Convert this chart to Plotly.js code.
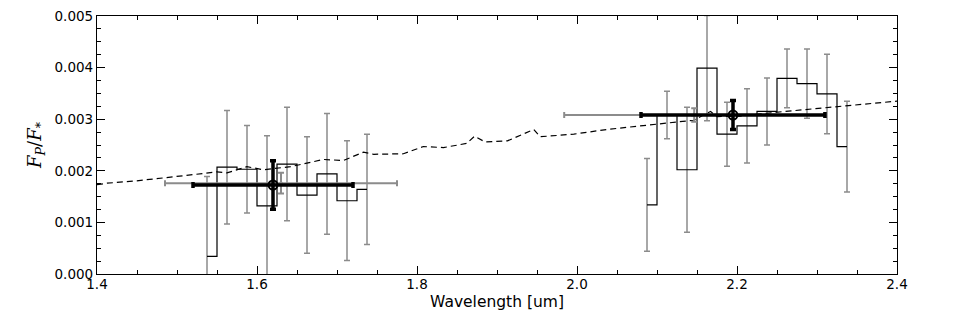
<!DOCTYPE html>
<html>
<head>
<meta charset="utf-8">
<script src="https://cdn.plot.ly/plotly-3.0.1.min.js"></script>
<style>
  html, body { margin: 0; padding: 0; background: #fff; }
  #plot { width: 969px; height: 323px; }
</style>
</head>
<body>
<div id="plot"></div>
<script>
// binned spectrum, blue band (left) and red band (right)
const binWaveH = [1.5375, 1.5625, 1.5875, 1.6125, 1.6375, 1.6625, 1.6875, 1.7125, 1.7375]
const binDepthH = [0.00034, 0.00207, 0.00203, 0.00132, 0.00213, 0.00153, 0.00194, 0.00142, 0.00164]
const binErrH = [0.00155, 0.00110, 0.00085, 0.00136, 0.00110, 0.00113, 0.00117, 0.00116, 0.00107]

const binWaveK = [2.0875, 2.1125, 2.1375, 2.1625, 2.1875, 2.2125, 2.2375, 2.2625, 2.2875, 2.3125, 2.3375]
const binDepthK = [0.00134, 0.00308, 0.00202, 0.00399, 0.00271, 0.00287, 0.00315, 0.00379, 0.00369, 0.00349, 0.00247]
const binErrK = [0.00090, 0.00046, 0.00121, 0.00102, 0.00062, 0.00072, 0.00065, 0.00057, 0.00067, 0.00077, 0.00088]

// broadband points (black = this work, grey = literature)
const bbWave = [1.62, 2.195]
const bbDepth = [0.001725, 0.00308]
const bbWaveErr = [0.1, 0.115]
const bbDepthErr = [0.00047, 0.00028]

const litWave = [1.63, 2.1465]
const litDepth = [0.00176, 0.00308]
const litWaveErr = [0.145, 0.1625]
const litDepthErr = [0.0002, 0.00013]

// model spectrum (dashed)
const modelWave = [1.400, 1.4125, 1.446, 1.483, 1.517, 1.550, 1.5625, 1.5875, 1.608, 1.642,
  1.6625, 1.683, 1.708, 1.733, 1.746, 1.783, 1.808, 1.833, 1.862, 1.872,
  1.885, 1.913, 1.946, 1.954, 1.996, 2.037, 2.079, 2.121, 2.146, 2.158,
  2.167, 2.175, 2.204, 2.246, 2.287, 2.329, 2.387, 2.400]
const modelDepth = [0.00173, 0.00176, 0.00180, 0.00187, 0.00192, 0.00198, 0.00196, 0.00208, 0.00202, 0.00208,
  0.00215, 0.00222, 0.00220, 0.00236, 0.00232, 0.00233, 0.00247, 0.00245, 0.00253, 0.00267,
  0.00256, 0.00258, 0.00280, 0.00266, 0.00271, 0.00280, 0.00287, 0.00294, 0.00298, 0.00308,
  0.00315, 0.00305, 0.00306, 0.00313, 0.00319, 0.00324, 0.00333, 0.00335]

const GREY = '#8c8c8c'

function binErrTrace (x, y, err) {
  return {
    type: 'scatter', mode: 'markers', x: x, y: y,
    marker: { size: 1, opacity: 0 },
    error_y: { type: 'data', array: err, visible: true, color: GREY, thickness: 1.5, width: 3 },
    hoverinfo: 'skip', showlegend: false
  }
}

function stepTrace (x, y) {
  return {
    type: 'scatter', mode: 'lines', x: x, y: y,
    line: { shape: 'hvh', color: '#000', width: 1.2 },
    showlegend: false
  }
}

const traces = [
  binErrTrace(binWaveH, binDepthH, binErrH),
  binErrTrace(binWaveK, binDepthK, binErrK),
  stepTrace(binWaveH, binDepthH),
  stepTrace(binWaveK, binDepthK),
  {
    type: 'scatter', mode: 'lines', x: modelWave, y: modelDepth,
    line: { color: '#000', width: 1.2, dash: '6px,4px' },
    showlegend: false
  },
  {
    type: 'scatter', mode: 'markers', x: litWave, y: litDepth,
    marker: { symbol: 'triangle-up', size: 6, color: GREY },
    error_x: { type: 'data', array: litWaveErr, visible: true, color: GREY, thickness: 2, width: 3 },
    error_y: { type: 'data', array: litDepthErr, visible: true, color: GREY, thickness: 2, width: 3 },
    showlegend: false
  },
  {
    type: 'scatter', mode: 'markers', x: bbWave, y: bbDepth,
    marker: { symbol: 'circle-open', size: 9, color: '#000', line: { width: 2, color: '#000' } },
    error_x: { type: 'data', array: bbWaveErr, visible: true, color: '#000', thickness: 3.5, width: 3 },
    error_y: { type: 'data', array: bbDepthErr, visible: true, color: '#000', thickness: 3.5, width: 3 },
    showlegend: false
  }
]

const axisCommon = {
  showgrid: false,
  zeroline: false,
  showline: true,
  linecolor: '#000',
  linewidth: 1.2,
  mirror: 'ticks',
  ticks: 'inside',
  ticklen: 8,
  tickwidth: 1,
  tickcolor: '#000',
  tickfont: { family: 'DejaVu Sans', size: 13.5, color: '#000' }
}

const layout = {
  width: 969,
  height: 323,
  margin: { l: 97, r: 72, t: 16, b: 49 },
  paper_bgcolor: '#fff',
  plot_bgcolor: '#fff',
  font: { family: 'DejaVu Sans', color: '#000' },
  xaxis: Object.assign({}, axisCommon, {
    range: [1.4, 2.4],
    tickvals: [1.4, 1.6, 1.8, 2.0, 2.2, 2.4],
    ticktext: ['1.4', '1.6', '1.8', '2.0', '2.2', '2.4'],
    ticklabelstandoff: -2,
    minor: { ticks: 'inside', ticklen: 4, tickcolor: '#000', dtick: 0.05, tick0: 1.4 },
    title: { text: 'Wavelength [um]', font: { family: 'DejaVu Sans', size: 15.5 }, standoff: 4 }
  }),
  yaxis: Object.assign({}, axisCommon, {
    range: [0, 0.005],
    dtick: 0.001,
    tickformat: '.3f',
    minor: { ticks: 'inside', ticklen: 4, tickcolor: '#000', dtick: 0.00025 },
    title: { text: '<i>F<sub>P</sub></i>/<i>F</i><sub>*</sub>', font: { family: 'DejaVu Serif', size: 18 }, standoff: 8 }
  })
}

Plotly.newPlot('plot', traces, layout, { displayModeBar: false, responsive: false })
</script>
</body>
</html>
